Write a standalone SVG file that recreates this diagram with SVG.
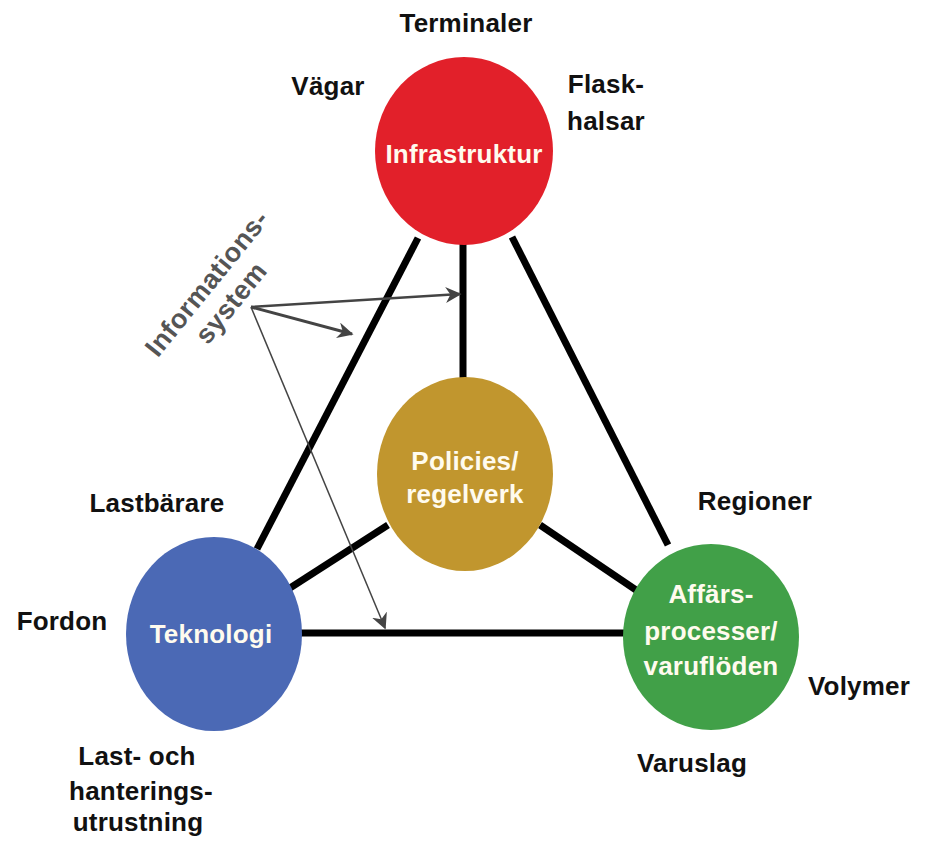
<svg xmlns="http://www.w3.org/2000/svg" width="928" height="842" viewBox="0 0 928 842">
<defs>
<style>
.lbl{font-family:"Liberation Sans",Arial,sans-serif;font-weight:bold;font-size:26px;fill:#111;text-anchor:middle;letter-spacing:0.2px}
.in{font-family:"Liberation Sans",Arial,sans-serif;font-weight:bold;font-size:26px;fill:#fffbee;text-anchor:middle;letter-spacing:0.2px}
.edge{stroke:#000;stroke-width:7;fill:none}
.arr{stroke:#444;fill:none}
</style>
<marker id="ahb" viewBox="0 0 10 10" refX="9" refY="5" markerWidth="16" markerHeight="16" markerUnits="userSpaceOnUse" orient="auto">
<path d="M0,0 L10,5 L0,10 L3,5 z" fill="#444"/>
</marker>
</defs>
<rect width="928" height="842" fill="#fff"/>
<g id="connectors">
<line class="edge" x1="418" y1="238" x2="257" y2="549"/>
<line class="edge" x1="463" y1="240" x2="463" y2="380"/>
<line class="edge" x1="512" y1="237" x2="668" y2="545"/>
<line class="edge" x1="388" y1="525" x2="290" y2="588"/>
<line class="edge" x1="540" y1="525" x2="636" y2="590"/>
<line class="edge" x1="300" y1="633" x2="625" y2="633"/>
</g>
<g id="informationssystem">
<text class="lbl" style="fill:#555;font-size:27px;letter-spacing:0.5px" transform="translate(214,289) rotate(-51)"><tspan x="0" y="0">Informations-</tspan><tspan x="0" y="31">system</tspan></text>
<g id="info-arrows">
<line class="arr" stroke-width="2.5" x1="251" y1="307" x2="460" y2="294" marker-end="url(#ahb)"/>
<line class="arr" stroke-width="3" x1="251" y1="307" x2="352" y2="334" marker-end="url(#ahb)"/>
<line class="arr" stroke-width="1.5" x1="251" y1="307" x2="385" y2="628" marker-end="url(#ahb)"/>
</g>
</g>
<g id="infrastruktur">
<ellipse cx="464" cy="151" rx="89" ry="94" fill="#e2202a"/>
<text class="in" x="464" y="163">Infrastruktur</text>
</g>
<g id="policies">
<ellipse cx="465" cy="474" rx="88" ry="97" fill="#c1962e"/>
<text class="in" x="465" y="470">Policies/</text>
<text class="in" x="465" y="503">regelverk</text>
</g>
<g id="teknologi">
<ellipse cx="214" cy="634" rx="88" ry="97" fill="#4b69b5"/>
<text class="in" x="211" y="643">Teknologi</text>
</g>
<g id="affarsprocesser">
<ellipse cx="711" cy="637" rx="88" ry="93" fill="#41a048"/>
<text class="in" x="711" y="603">Affärs-</text>
<text class="in" x="711" y="640">processer/</text>
<text class="in" x="711" y="675">varuflöden</text>
</g>
<g id="labels">
<text class="lbl" x="466" y="32">Terminaler</text>
<text class="lbl" x="328" y="95">Vägar</text>
<text class="lbl" x="606" y="93">Flask-</text>
<text class="lbl" x="606" y="130">halsar</text>
<text class="lbl" x="157" y="512">Lastbärare</text>
<text class="lbl" x="62" y="630">Fordon</text>
<text class="lbl" x="137" y="765">Last- och</text>
<text class="lbl" x="141" y="800">hanterings-</text>
<text class="lbl" x="138" y="831">utrustning</text>
<text class="lbl" x="755" y="510">Regioner</text>
<text class="lbl" x="859" y="695">Volymer</text>
<text class="lbl" x="692" y="772">Varuslag</text>
</g>
</svg>
